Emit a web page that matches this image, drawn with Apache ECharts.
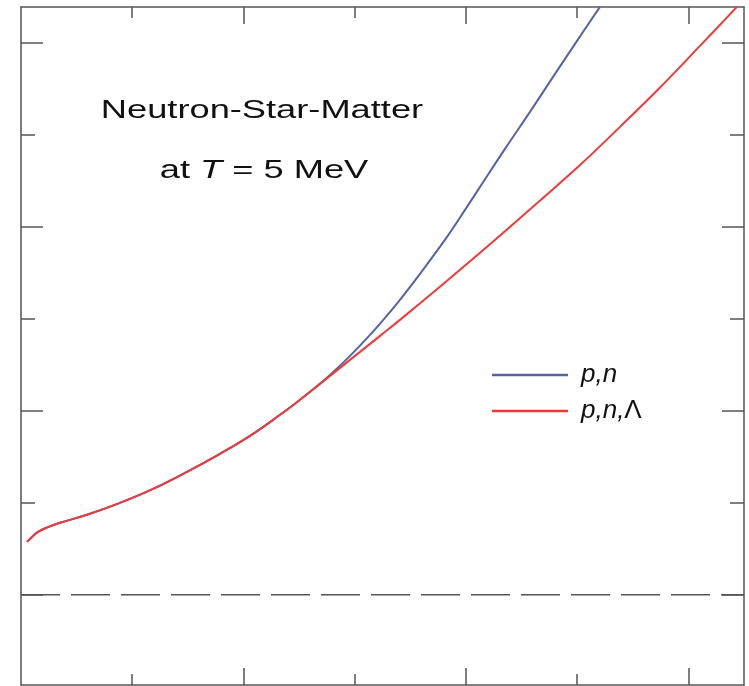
<!DOCTYPE html>
<html>
<head>
<meta charset="utf-8">
<style>
  html, body { margin: 0; padding: 0; background: #fff; }
  #chart { width: 749px; height: 686px; }
</style>
<script src="https://cdn.jsdelivr.net/npm/echarts@6/dist/echarts.min.js"></script>
</head>
<body>
<div id="chart"></div>
<script>
// curve p,n,Λ (with hyperons)
const xPNL = [0.054, 0.099, 0.153, 0.225, 0.351, 0.593, 0.890, 1.187, 1.492, 1.789, 2.059, 2.329, 2.508,
  2.688, 2.868, 3.048, 3.228, 3.407, 3.812, 4.216, 4.621, 5.026, 5.385, 5.745, 6.104, 6.437];
const yPNL = [0.576, 0.630, 0.685, 0.728, 0.783, 0.870, 1.000, 1.152, 1.337, 1.533, 1.728, 1.957, 2.120,
  2.293, 2.467, 2.641, 2.815, 2.989, 3.396, 3.811, 4.239, 4.672, 5.087, 5.515, 5.967, 6.391];

// curve p,n (nucleons only)
const xPN = [0.054, 0.099, 0.153, 0.225, 0.351, 0.593, 0.890, 1.187, 1.492, 1.789, 2.059, 2.329, 2.508,
  2.598, 2.778, 2.958, 3.138, 3.272, 3.407, 3.587, 3.830, 3.992, 4.127, 4.351, 4.576, 4.801, 4.999, 5.205];
const yPN = [0.576, 0.630, 0.685, 0.728, 0.783, 0.870, 1.000, 1.152, 1.337, 1.533, 1.728, 1.957, 2.120,
  2.207, 2.391, 2.598, 2.826, 3.011, 3.207, 3.489, 3.891, 4.185, 4.435, 4.848, 5.250, 5.663, 6.022, 6.391];

// zero reference line
const xZero = [0, 6.5];
const yZero = [0, 0];

// tick positions (long / short)
const xMajor = [2, 4, 6];
const xMinor = [1, 3, 5];
const yMajor = [0, 2, 4, 6];
const yMinor = [1, 3, 5];

const seriesNames = ['p,n', 'p,n,Λ'];

const zip = (xs, ys) => xs.map((x, i) => [x, ys[i]]);

const FONT = '"Liberation Sans", Arial, sans-serif';
const AXIS_COLOR = '#555';

function xAx(pos, major) {
  return {
    type: 'value', min: 0, max: 6.5, position: pos,
    axisLine: { show: major, onZero: false, lineStyle: { color: AXIS_COLOR, width: 1.5 } },
    axisTick: { show: true, inside: true, length: major ? 17 : 11,
      customValues: major ? xMajor : xMinor,
      lineStyle: { color: AXIS_COLOR, width: 1.5 } },
    axisLabel: { show: false },
    splitLine: { show: false }
  };
}
function yAx(pos, major) {
  return {
    type: 'value', min: -0.98, max: 6.39, position: pos,
    axisLine: { show: major, onZero: false, lineStyle: { color: AXIS_COLOR, width: 1.5 } },
    axisTick: { show: true, inside: true, length: major ? 22 : 14,
      customValues: major ? yMajor : yMinor,
      lineStyle: { color: AXIS_COLOR, width: 1.5 } },
    axisLabel: { show: false },
    splitLine: { show: false }
  };
}

const chart = echarts.init(document.getElementById('chart'));
chart.setOption({
  animation: false,
  backgroundColor: '#fff',
  grid: { left: 21, right: 5, top: 7, bottom: 1 },
  xAxis: [xAx('bottom', true), xAx('bottom', false), xAx('top', true), xAx('top', false)],
  yAxis: [yAx('left', true), yAx('left', false), yAx('right', true), yAx('right', false)],
  legend: {
    orient: 'vertical',
    left: 487,
    top: 357,
    icon: 'rect',
    itemWidth: 76,
    itemHeight: 2.5,
    itemGap: 10,
    selectedMode: false,
    data: seriesNames,
    formatter: function (name) {
      return name === 'p,n' ? '{i|p,n}' : '{i|p,n,}{g|Λ}';
    },
    textStyle: {
      color: '#111',
      padding: [0, 0, 0, 8],
      rich: {
        i: { fontFamily: FONT, fontSize: 26, lineHeight: 26, fontStyle: 'italic', color: '#111' },
        g: { fontFamily: FONT, fontSize: 26, lineHeight: 26, color: '#111' }
      }
    }
  },
  graphic: [
    {
      type: 'text', x: 262, y: 111, scaleX: 1.45,
      style: { text: 'Neutron-Star-Matter', font: '25px ' + FONT, fill: '#111',
        align: 'center', verticalAlign: 'middle' }
    },
    {
      type: 'text', x: 264, y: 171, scaleX: 1.45,
      style: {
        text: 'at {i|T} = 5 MeV', font: '25px ' + FONT, fill: '#111',
        align: 'center', verticalAlign: 'middle',
        rich: { i: { fontStyle: 'italic', fontSize: 25, fontFamily: FONT, fill: '#111' } }
      }
    }
  ],
  series: [
    {
      name: 'zero', type: 'line', silent: true, symbol: 'none',
      data: zip(xZero, yZero),
      lineStyle: { color: AXIS_COLOR, width: 1.5, type: [39, 11] }
    },
    {
      name: seriesNames[0], type: 'line', symbol: 'none', smooth: 0.4,
      data: zip(xPN, yPN),
      lineStyle: { color: '#5563a8', width: 2 },
      itemStyle: { color: '#5563a8' }
    },
    {
      name: seriesNames[1], type: 'line', symbol: 'none', smooth: 0.4,
      data: zip(xPNL, yPNL),
      lineStyle: { color: '#ee3a3a', width: 2 },
      itemStyle: { color: '#ee3a3a' }
    }
  ]
});
</script>
</body>
</html>
